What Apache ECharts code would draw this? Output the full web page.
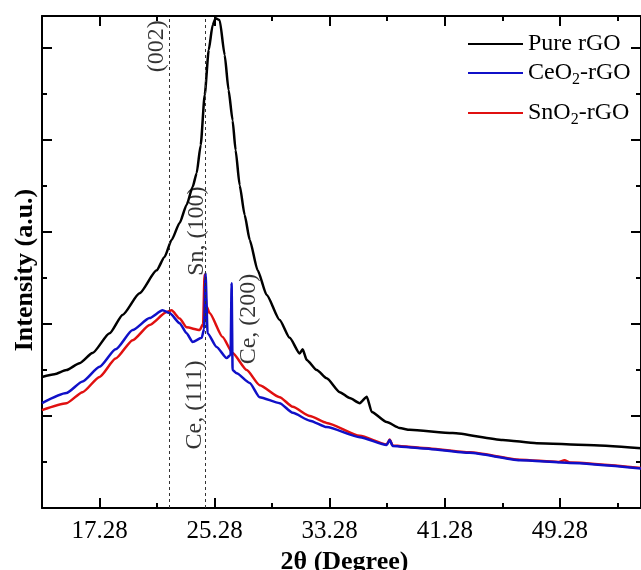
<!DOCTYPE html>
<html>
<head>
<meta charset="utf-8">
<script src="https://cdn.jsdelivr.net/npm/echarts@6/dist/echarts.min.js"></script>
<style>
  html, body { margin: 0; padding: 0; background: #fff; }
  #main { width: 641px; height: 570px; }
</style>
</head>
<body>
<div id="main"></div>
<script>
// 2theta (degree) vs intensity (a.u.)
const pureRgo = [
  [13.28, 2.85], [14.15, 2.91], [14.98, 3.00], [15.89, 3.15], [16.79, 3.37], [17.98, 3.80],
  [18.88, 4.20], [20.06, 4.67], [21.25, 5.17], [21.80, 5.46], [22.29, 5.83], [22.85, 6.20],
  [23.33, 6.59], [23.75, 6.98], [24.03, 7.28], [24.31, 7.89], [24.59, 8.98], [24.87, 9.96],
  [25.14, 10.50], [25.35, 10.65], [25.63, 10.61], [25.98, 9.85], [26.25, 9.09], [26.53, 8.43],
  [26.74, 7.78], [27.02, 7.02], [27.37, 6.37], [27.72, 5.83], [28.27, 5.17], [28.90, 4.63],
  [29.80, 4.09], [30.50, 3.70], [31.19, 3.36], [31.40, 3.45], [31.68, 3.22], [32.38, 3.00],
  [33.07, 2.82], [33.98, 2.52], [34.67, 2.39], [35.37, 2.28], [35.86, 2.42], [36.20, 2.09],
  [37.24, 1.87], [38.14, 1.74], [38.84, 1.70], [41.83, 1.63], [45.31, 1.48], [47.67, 1.41],
  [51.15, 1.37], [54.92, 1.30]
]
const ceo2Rgo = [
  [13.28, 2.28], [14.98, 2.50], [16.10, 2.75], [17.28, 3.07], [18.40, 3.45], [19.58, 3.87],
  [20.76, 4.13], [21.66, 4.30], [22.15, 4.24], [22.85, 4.02], [23.33, 3.80], [23.75, 3.61],
  [24.38, 3.70], [24.55, 3.90], [24.65, 5.11], [24.79, 3.80], [25.42, 3.50], [26.11, 3.26],
  [26.39, 3.33], [26.46, 4.89], [26.53, 3.00], [26.81, 2.93], [27.72, 2.72], [28.41, 2.41],
  [29.80, 2.28], [30.71, 2.07], [31.90, 1.90], [33.07, 1.76], [35.37, 1.54], [37.24, 1.37],
  [37.45, 1.48], [37.66, 1.35], [39.54, 1.30], [43.02, 1.20], [46.50, 1.04], [49.98, 0.98],
  [54.92, 0.86]
]
const sno2Rgo = [
  [13.28, 2.13], [14.98, 2.28], [16.10, 2.52], [17.28, 2.85], [18.40, 3.25], [19.58, 3.65],
  [20.76, 3.98], [21.94, 4.26], [22.29, 4.30], [22.85, 4.12], [23.33, 3.93], [24.24, 3.87],
  [24.48, 4.00], [24.58, 5.07], [24.70, 4.40], [24.93, 4.24], [25.83, 3.72], [26.53, 3.37],
  [27.51, 3.00], [28.41, 2.67], [29.80, 2.41], [30.71, 2.20], [31.90, 2.00], [33.07, 1.85],
  [35.37, 1.57], [37.24, 1.38], [37.45, 1.49], [37.66, 1.36], [39.54, 1.31], [43.02, 1.21],
  [46.50, 1.05], [49.20, 1.00], [49.60, 1.04], [49.98, 0.99], [54.92, 0.87]
]
const seriesNames = ['Pure rGO', 'CeO2-rGO', 'SnO2-rGO']
const peakLines = [22.15, 24.65]
const peakLabels = [
  [21.25, 10.04, '(002)'],
  [24.03, 6.02, 'Sn, (100)'],
  [23.89, 2.24, 'Ce, (111)'],
  [27.65, 4.11, 'Ce, (200)']
]
const xMajor = [17.28, 25.28, 33.28, 41.28, 49.28]
const xMinor = [21.28, 29.28, 37.28, 45.28, 53.28]
const yMajor = [2, 4, 6, 8, 10]
const yMinor = [1, 3, 5, 7, 9]

const FONT = 'Liberation Serif'
const xMin = 13.28, xMax = 54.92
const yMin = 0, yMax = 10.7

const myChart = echarts.init(document.getElementById('main'))

function xAx(pos, ticks, len, withLine, withLabel) {
  const ax = {
    type: 'value', position: pos, min: xMin, max: xMax,
    splitLine: { show: false },
    axisLine: { show: withLine, onZero: false, lineStyle: { color: '#000', width: 2 } },
    axisTick: { show: true, inside: true, length: len, customValues: ticks, lineStyle: { color: '#000', width: 2 } },
    axisLabel: { show: false }
  }
  if (withLabel) {
    ax.axisLabel = {
      show: true, customValues: ticks, margin: 11,
      formatter: v => v.toFixed(2),
      color: '#000', fontFamily: FONT, fontSize: 25
    }
    ax.name = '2θ (Degree)'
    ax.nameLocation = 'middle'
    ax.nameGap = 37
    ax.nameTextStyle = { color: '#000', fontFamily: FONT, fontSize: 26, fontWeight: 'bold', padding: [0, 0, 0, 6] }
  }
  return ax
}

function yAx(pos, ticks, len, withLine, withName) {
  const ax = {
    type: 'value', position: pos, min: yMin, max: yMax,
    splitLine: { show: false },
    axisLine: { show: withLine, onZero: false, lineStyle: { color: '#000', width: 2 } },
    axisTick: { show: true, inside: true, length: len, customValues: ticks, lineStyle: { color: '#000', width: 2 } },
    axisLabel: { show: false }
  }
  if (withName) {
    ax.name = 'Intensity (a.u.)'
    ax.nameLocation = 'middle'
    ax.nameGap = 4
    ax.nameTextStyle = { color: '#000', fontFamily: FONT, fontSize: 26, fontWeight: 'bold', padding: [0, 16, 0, 0] }
  }
  return ax
}

const legendRich = {
  sub: { fontFamily: FONT, fontSize: 16, color: '#000', padding: [14, 0, 0, 0] }
}
function legendAt(name, top) {
  return {
    data: [name], left: 468, top: top, padding: 0, orient: 'vertical',
    icon: 'rect', itemWidth: 55, itemHeight: 2, selectedMode: false,
    formatter: n => n.replace('O2', 'O{sub|2}'),
    textStyle: { fontFamily: FONT, fontSize: 24, color: '#000', rich: legendRich }
  }
}

const lineSeries = function (name, data, color) {
  return {
    name: name, type: 'line', data: data, symbol: 'none',
    xAxisIndex: 0, yAxisIndex: 0,
    smooth: 0.2, smoothMonotone: 'x',
    lineStyle: { color: color, width: 2.5 },
    itemStyle: { color: color },
    animation: false
  }
}

const black = lineSeries(seriesNames[0], pureRgo, '#000000')
black.markLine = {
  silent: true, symbol: 'none', animation: false,
  label: { show: false },
  lineStyle: { type: [3, 3], color: '#333', width: 1 },
  data: peakLines.map(v => ({ xAxis: v }))
}

const option = {
  backgroundColor: '#fff',
  grid: { left: 42, top: 16, right: 0, bottom: 62, outerBoundsMode: 'none' },
  legend: [
    legendAt(seriesNames[0], 32),
    legendAt(seriesNames[1], 61),
    legendAt(seriesNames[2], 101)
  ],
  xAxis: [
    xAx('bottom', xMajor, 10, true, true),
    xAx('bottom', xMinor, 5, false, false),
    xAx('top', xMajor, 10, true, false),
    xAx('top', xMinor, 5, false, false)
  ],
  yAxis: [
    yAx('left', yMajor, 10, true, true),
    yAx('left', yMinor, 5, false, false),
    yAx('right', yMajor, 10, true, false),
    yAx('right', yMinor, 5, false, false)
  ],
  series: [
    black,
    lineSeries(seriesNames[2], sno2Rgo, '#e01010'),
    lineSeries(seriesNames[1], ceo2Rgo, '#1010c8'),
    {
      type: 'scatter', data: peakLabels, symbolSize: 0, silent: true, animation: false,
      label: {
        show: true, position: 'inside', rotate: 90,
        formatter: p => p.data[2],
        color: '#000', fontFamily: FONT, fontSize: 24
      }
    }
  ]
}
myChart.setOption(option)
</script>
</body>
</html>
